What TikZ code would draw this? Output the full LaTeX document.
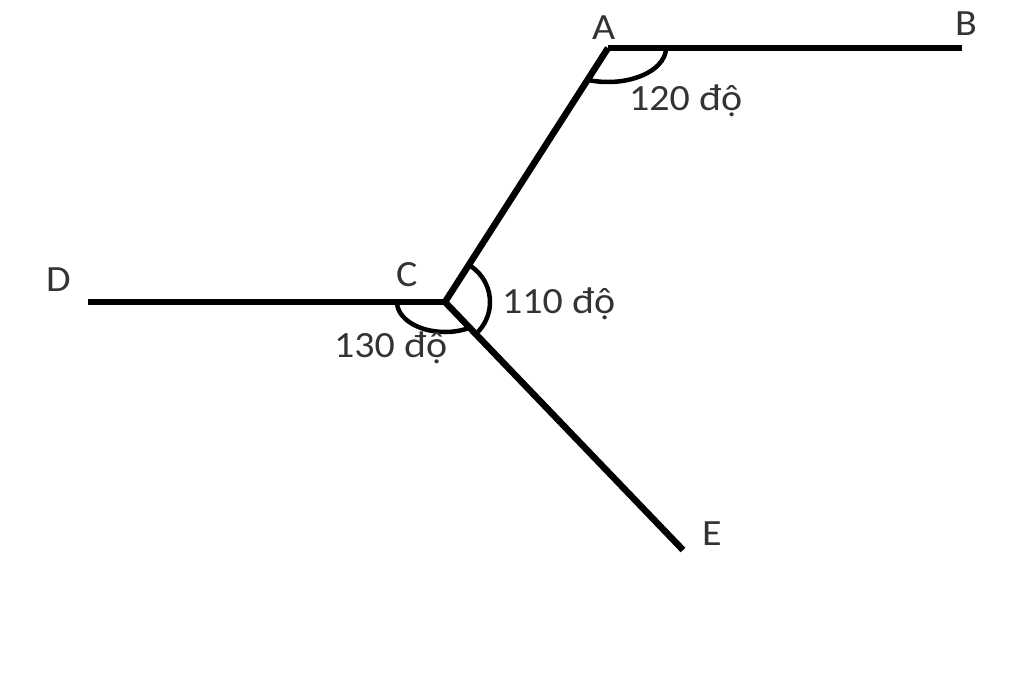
\documentclass[tikz,border=0pt]{standalone}
\usepackage{fontspec}
\setmainfont{Carlito}[FakeStretch=1.08]
\begin{document}
\begin{tikzpicture}[x=1pt,y=-1pt,
    seg/.style={line width=6.5pt},
    anglearc/.style={line width=4.5pt},
    lbl/.style={anchor=base west,inner sep=0pt,text=black!80,
      font=\fontsize{37}{40}\selectfont}]
    \useasboundingbox (0,0) rectangle (1024,675);

    % Coordinates of the points
    \coordinate (A) at (608, 48);
    \coordinate (B) at (962, 48);
    \coordinate (C) at (445, 302);
    \coordinate (D) at (88, 302);
    \coordinate (E) at (683, 550);

    % The lines
    \draw[seg] (A) -- (B);
    \draw[seg] (D) -- (C);
    \draw[seg] (A) -- (C);
    \draw[seg] (C) -- (E);

    % The angles
    \draw[anglearc] (A) ++(58pt,0) arc[start angle=0,end angle=-110,x radius=58pt,y radius=34pt];
    \draw[anglearc] (C) ++(2pt,0) ++(57:43pt) arc[start angle=57,end angle=-46,radius=43pt];
    \draw[anglearc] (C) ++(-48pt,0) arc[start angle=180,end angle=300,x radius=48pt,y radius=30pt];

    % The labels
    \node[lbl] (labA) at (592, 39) {A};
    \node[lbl] (labB) at (955, 35) {B};
    \node[lbl] (labC) at (396, 286) {C};
    \node[lbl] (labD) at (46, 291) {D};
    \node[lbl] (labE) at (702, 545) {E};
    \node[lbl] (angA) at (629, 110) {120 độ};
    \node[lbl] (angC) at (502, 313) {110 độ};
    \node[lbl] (angD) at (334, 357) {130 độ};
\end{tikzpicture}
\end{document}
